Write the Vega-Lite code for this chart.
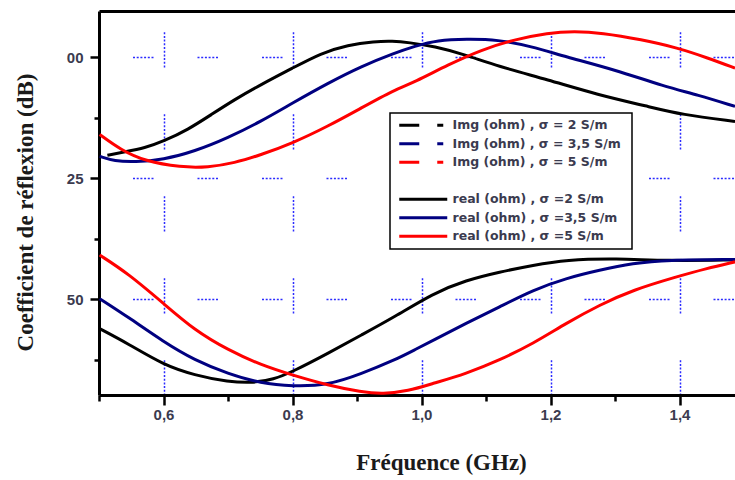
{
  "$schema": "https://vega.github.io/schema/vega-lite/v6.json",
  "width": 636,
  "height": 384,
  "autosize": {"type": "none"},
  "padding": {"left": 99, "top": 11, "right": 0, "bottom": 85},
  "background": "white",
  "config": {"view": {"stroke": null}},
  "data": {"values": [
    {"s": "Img (ohm) , σ = 2  S/m", "x": 0.513, "v": 20.3},
    {"s": "Img (ohm) , σ = 2  S/m", "x": 0.540, "v": 19.6},
    {"s": "Img (ohm) , σ = 2  S/m", "x": 0.571, "v": 18.8},
    {"s": "Img (ohm) , σ = 2  S/m", "x": 0.600, "v": 17.4},
    {"s": "Img (ohm) , σ = 2  S/m", "x": 0.638, "v": 15.0},
    {"s": "Img (ohm) , σ = 2  S/m", "x": 0.674, "v": 11.9},
    {"s": "Img (ohm) , σ = 2  S/m", "x": 0.710, "v": 8.8},
    {"s": "Img (ohm) , σ = 2  S/m", "x": 0.751, "v": 5.7},
    {"s": "Img (ohm) , σ = 2  S/m", "x": 0.800, "v": 2.3},
    {"s": "Img (ohm) , σ = 2  S/m", "x": 0.844, "v": -0.8},
    {"s": "Img (ohm) , σ = 2  S/m", "x": 0.886, "v": -2.5},
    {"s": "Img (ohm) , σ = 2  S/m", "x": 0.927, "v": -3.2},
    {"s": "Img (ohm) , σ = 2  S/m", "x": 0.955, "v": -3.3},
    {"s": "Img (ohm) , σ = 2  S/m", "x": 0.980, "v": -3.0},
    {"s": "Img (ohm) , σ = 2  S/m", "x": 1.020, "v": -2.2},
    {"s": "Img (ohm) , σ = 2  S/m", "x": 1.067, "v": -0.5},
    {"s": "Img (ohm) , σ = 2  S/m", "x": 1.118, "v": 1.9},
    {"s": "Img (ohm) , σ = 2  S/m", "x": 1.196, "v": 4.7},
    {"s": "Img (ohm) , σ = 2  S/m", "x": 1.273, "v": 7.8},
    {"s": "Img (ohm) , σ = 2  S/m", "x": 1.351, "v": 10.2},
    {"s": "Img (ohm) , σ = 2  S/m", "x": 1.403, "v": 11.9},
    {"s": "Img (ohm) , σ = 2  S/m", "x": 1.486, "v": 13.3},

    {"s": "Img (ohm) , σ = 3,5  S/m", "x": 0.501, "v": 20.5},
    {"s": "Img (ohm) , σ = 3,5  S/m", "x": 0.524, "v": 21.5},
    {"s": "Img (ohm) , σ = 3,5  S/m", "x": 0.555, "v": 21.7},
    {"s": "Img (ohm) , σ = 3,5  S/m", "x": 0.600, "v": 21.2},
    {"s": "Img (ohm) , σ = 3,5  S/m", "x": 0.648, "v": 19.5},
    {"s": "Img (ohm) , σ = 3,5  S/m", "x": 0.700, "v": 16.7},
    {"s": "Img (ohm) , σ = 3,5  S/m", "x": 0.751, "v": 13.3},
    {"s": "Img (ohm) , σ = 3,5  S/m", "x": 0.800, "v": 9.5},
    {"s": "Img (ohm) , σ = 3,5  S/m", "x": 0.855, "v": 5.4},
    {"s": "Img (ohm) , σ = 3,5  S/m", "x": 0.907, "v": 1.9},
    {"s": "Img (ohm) , σ = 3,5  S/m", "x": 0.958, "v": -0.8},
    {"s": "Img (ohm) , σ = 3,5  S/m", "x": 0.989, "v": -2.2},
    {"s": "Img (ohm) , σ = 3,5  S/m", "x": 1.025, "v": -3.5},
    {"s": "Img (ohm) , σ = 3,5  S/m", "x": 1.070, "v": -3.7},
    {"s": "Img (ohm) , σ = 3,5  S/m", "x": 1.118, "v": -3.6},
    {"s": "Img (ohm) , σ = 3,5  S/m", "x": 1.170, "v": -2.2},
    {"s": "Img (ohm) , σ = 3,5  S/m", "x": 1.222, "v": -0.1},
    {"s": "Img (ohm) , σ = 3,5  S/m", "x": 1.299, "v": 2.6},
    {"s": "Img (ohm) , σ = 3,5  S/m", "x": 1.377, "v": 6.1},
    {"s": "Img (ohm) , σ = 3,5  S/m", "x": 1.428, "v": 7.8},
    {"s": "Img (ohm) , σ = 3,5  S/m", "x": 1.486, "v": 10.2},

    {"s": "Img (ohm) , σ = 5  S/m", "x": 0.501, "v": 16.0},
    {"s": "Img (ohm) , σ = 5  S/m", "x": 0.534, "v": 19.2},
    {"s": "Img (ohm) , σ = 5  S/m", "x": 0.571, "v": 21.5},
    {"s": "Img (ohm) , σ = 5  S/m", "x": 0.627, "v": 22.8},
    {"s": "Img (ohm) , σ = 5  S/m", "x": 0.669, "v": 22.8},
    {"s": "Img (ohm) , σ = 5  S/m", "x": 0.710, "v": 21.9},
    {"s": "Img (ohm) , σ = 5  S/m", "x": 0.751, "v": 20.2},
    {"s": "Img (ohm) , σ = 5  S/m", "x": 0.800, "v": 17.8},
    {"s": "Img (ohm) , σ = 5  S/m", "x": 0.855, "v": 14.3},
    {"s": "Img (ohm) , σ = 5  S/m", "x": 0.907, "v": 10.5},
    {"s": "Img (ohm) , σ = 5  S/m", "x": 0.958, "v": 6.8},
    {"s": "Img (ohm) , σ = 5  S/m", "x": 0.989, "v": 5.2},
    {"s": "Img (ohm) , σ = 5  S/m", "x": 1.041, "v": 1.6},
    {"s": "Img (ohm) , σ = 5  S/m", "x": 1.093, "v": -1.5},
    {"s": "Img (ohm) , σ = 5  S/m", "x": 1.144, "v": -3.6},
    {"s": "Img (ohm) , σ = 5  S/m", "x": 1.196, "v": -5.0},
    {"s": "Img (ohm) , σ = 5  S/m", "x": 1.237, "v": -5.3},
    {"s": "Img (ohm) , σ = 5  S/m", "x": 1.279, "v": -5.0},
    {"s": "Img (ohm) , σ = 5  S/m", "x": 1.341, "v": -3.6},
    {"s": "Img (ohm) , σ = 5  S/m", "x": 1.397, "v": -1.9},
    {"s": "Img (ohm) , σ = 5  S/m", "x": 1.444, "v": 0.2},
    {"s": "Img (ohm) , σ = 5  S/m", "x": 1.486, "v": 2.3},

    {"s": "real (ohm) , σ =2  S/m", "x": 0.501, "v": 56.1},
    {"s": "real (ohm) , σ =2  S/m", "x": 0.545, "v": 59.2},
    {"s": "real (ohm) , σ =2  S/m", "x": 0.600, "v": 63.6},
    {"s": "real (ohm) , σ =2  S/m", "x": 0.648, "v": 65.7},
    {"s": "real (ohm) , σ =2  S/m", "x": 0.700, "v": 67.1},
    {"s": "real (ohm) , σ =2  S/m", "x": 0.741, "v": 67.3},
    {"s": "real (ohm) , σ =2  S/m", "x": 0.770, "v": 66.6},
    {"s": "real (ohm) , σ =2  S/m", "x": 0.800, "v": 65.0},
    {"s": "real (ohm) , σ =2  S/m", "x": 0.855, "v": 61.2},
    {"s": "real (ohm) , σ =2  S/m", "x": 0.907, "v": 57.4},
    {"s": "real (ohm) , σ =2  S/m", "x": 0.958, "v": 53.7},
    {"s": "real (ohm) , σ =2  S/m", "x": 1.018, "v": 48.8},
    {"s": "real (ohm) , σ =2  S/m", "x": 1.069, "v": 46.1},
    {"s": "real (ohm) , σ =2  S/m", "x": 1.121, "v": 44.4},
    {"s": "real (ohm) , σ =2  S/m", "x": 1.173, "v": 43.0},
    {"s": "real (ohm) , σ =2  S/m", "x": 1.224, "v": 41.9},
    {"s": "real (ohm) , σ =2  S/m", "x": 1.302, "v": 41.6},
    {"s": "real (ohm) , σ =2  S/m", "x": 1.379, "v": 42.1},
    {"s": "real (ohm) , σ =2  S/m", "x": 1.486, "v": 41.9},

    {"s": "real (ohm) , σ =3,5  S/m", "x": 0.501, "v": 49.9},
    {"s": "real (ohm) , σ =3,5  S/m", "x": 0.545, "v": 53.7},
    {"s": "real (ohm) , σ =3,5  S/m", "x": 0.600, "v": 58.8},
    {"s": "real (ohm) , σ =3,5  S/m", "x": 0.648, "v": 62.6},
    {"s": "real (ohm) , σ =3,5  S/m", "x": 0.700, "v": 65.4},
    {"s": "real (ohm) , σ =3,5  S/m", "x": 0.751, "v": 67.4},
    {"s": "real (ohm) , σ =3,5  S/m", "x": 0.800, "v": 68.0},
    {"s": "real (ohm) , σ =3,5  S/m", "x": 0.855, "v": 67.8},
    {"s": "real (ohm) , σ =3,5  S/m", "x": 0.907, "v": 65.4},
    {"s": "real (ohm) , σ =3,5  S/m", "x": 0.958, "v": 62.6},
    {"s": "real (ohm) , σ =3,5  S/m", "x": 0.989, "v": 60.5},
    {"s": "real (ohm) , σ =3,5  S/m", "x": 1.018, "v": 58.5},
    {"s": "real (ohm) , σ =3,5  S/m", "x": 1.069, "v": 55.0},
    {"s": "real (ohm) , σ =3,5  S/m", "x": 1.121, "v": 51.6},
    {"s": "real (ohm) , σ =3,5  S/m", "x": 1.173, "v": 48.1},
    {"s": "real (ohm) , σ =3,5  S/m", "x": 1.224, "v": 45.7},
    {"s": "real (ohm) , σ =3,5  S/m", "x": 1.276, "v": 44.0},
    {"s": "real (ohm) , σ =3,5  S/m", "x": 1.328, "v": 42.6},
    {"s": "real (ohm) , σ =3,5  S/m", "x": 1.379, "v": 41.9},
    {"s": "real (ohm) , σ =3,5  S/m", "x": 1.486, "v": 41.8},

    {"s": "real (ohm) , σ =5  S/m", "x": 0.501, "v": 40.9},
    {"s": "real (ohm) , σ =5  S/m", "x": 0.545, "v": 44.7},
    {"s": "real (ohm) , σ =5  S/m", "x": 0.600, "v": 50.9},
    {"s": "real (ohm) , σ =5  S/m", "x": 0.648, "v": 56.4},
    {"s": "real (ohm) , σ =5  S/m", "x": 0.700, "v": 60.5},
    {"s": "real (ohm) , σ =5  S/m", "x": 0.751, "v": 63.6},
    {"s": "real (ohm) , σ =5  S/m", "x": 0.800, "v": 65.7},
    {"s": "real (ohm) , σ =5  S/m", "x": 0.855, "v": 67.8},
    {"s": "real (ohm) , σ =5  S/m", "x": 0.907, "v": 69.2},
    {"s": "real (ohm) , σ =5  S/m", "x": 0.940, "v": 69.6},
    {"s": "real (ohm) , σ =5  S/m", "x": 0.979, "v": 69.0},
    {"s": "real (ohm) , σ =5  S/m", "x": 1.018, "v": 67.4},
    {"s": "real (ohm) , σ =5  S/m", "x": 1.069, "v": 65.4},
    {"s": "real (ohm) , σ =5  S/m", "x": 1.121, "v": 62.6},
    {"s": "real (ohm) , σ =5  S/m", "x": 1.173, "v": 59.2},
    {"s": "real (ohm) , σ =5  S/m", "x": 1.224, "v": 55.0},
    {"s": "real (ohm) , σ =5  S/m", "x": 1.276, "v": 51.2},
    {"s": "real (ohm) , σ =5  S/m", "x": 1.328, "v": 48.1},
    {"s": "real (ohm) , σ =5  S/m", "x": 1.395, "v": 45.4},
    {"s": "real (ohm) , σ =5  S/m", "x": 1.441, "v": 43.7},
    {"s": "real (ohm) , σ =5  S/m", "x": 1.486, "v": 42.3}
  ]},
  "encoding": {
    "y": {
      "field": "v", "type": "quantitative",
      "scale": {"domain": [-9.5, 69.8], "reverse": true, "nice": false, "zero": false},
      "axis": {
        "orient": "left",
        "values": [0, 12.5, 25, 37.5, 50, 62.5],
        "labelExpr": "datum.value % 25 == 0 ? (datum.value == 0 ? '00' : format(datum.value, 'd')) : ''",
        "tickSize": {"condition": {"test": "datum.value % 25 == 0", "value": 9}, "value": 5},
        "grid": true,
        "gridOpacity": {"condition": {"test": "datum.value % 25 == 0", "value": 1}, "value": 0},
        "gridColor": "#2b2bff",
        "gridWidth": 1.5,
        "gridDash": [2, 1.7, 2, 1.7, 2, 1.7, 2, 1.7, 2, 1.7, 2, 44.0],
        "gridDashOffset": 31,
        "domainColor": "black", "domainWidth": 3,
        "tickColor": "black", "tickWidth": 2.5,
        "labelFont": "Liberation Sans", "labelFontSize": 15, "labelFontWeight": "bold",
        "labelColor": "#3b3b4f", "labelPadding": 7, "labelFlush": false, "labelOverlap": false,
        "title": "Coefficient de réflexion (dB)",
        "titleFont": "Liberation Serif", "titleFontSize": 23, "titleFontWeight": "bold",
        "titleColor": "#1a1a1a", "titleX": -67, "titleY": 201, "titleBaseline": "alphabetic"
      }
    }
  },
  "layer": [
    {
      "mark": {"type": "line", "strokeWidth": 3, "interpolate": "basis"},
      "encoding": {
        "x": {
          "field": "x", "type": "quantitative",
          "scale": {"domain": [0.5, 1.486], "nice": false, "zero": false},
          "axis": {
            "orient": "bottom",
            "values": [0.5, 0.6, 0.7, 0.8, 0.9, 1.0, 1.1, 1.2, 1.3, 1.4],
            "labelExpr": "round(datum.value * 10) % 2 == 0 ? replace(format(datum.value, '.1f'), '.', ',') : ''",
            "tickSize": {"condition": {"test": "round(datum.value * 10) % 2 == 0", "value": 10}, "value": 6},
            "grid": true,
            "gridOpacity": {"condition": {"test": "round(datum.value * 10) % 2 == 0", "value": 1}, "value": 0},
            "gridColor": "#2b2bff",
            "gridWidth": 1.5,
            "gridDash": [2, 1.7, 2, 1.7, 2, 1.7, 2, 1.7, 2, 1.7, 2, 1.7, 2, 1.7, 2, 1.7, 2, 1.7, 2, 46.7],
            "gridDashOffset": 0,
            "domainColor": "black", "domainWidth": 3,
            "tickColor": "black", "tickWidth": 2.5,
            "labelFont": "Liberation Sans", "labelFontSize": 15, "labelFontWeight": "bold",
            "labelColor": "#3b3b4f", "labelPadding": 2, "labelFlush": false, "labelOverlap": false,
            "title": "Fréquence (GHz)",
            "titleFont": "Liberation Serif", "titleFontSize": 23, "titleFontWeight": "bold",
            "titleColor": "#1a1a1a", "titleX": 342, "titleY": 56, "titleBaseline": "top"
          }
        },
        "color": {
          "field": "s", "type": "nominal",
          "scale": {
            "domain": ["Img (ohm) , σ = 2  S/m", "Img (ohm) , σ = 3,5  S/m", "Img (ohm) , σ = 5  S/m", " ", "real (ohm) , σ =2  S/m", "real (ohm) , σ =3,5  S/m", "real (ohm) , σ =5  S/m"],
            "range": ["#000000", "#000080", "#ff0000", "rgba(0,0,0,0)", "#000000", "#000080", "#ff0000"]
          },
          "legend": {
            "orient": "none", "legendX": 291, "legendY": 102,
            "title": null,
            "strokeColor": "black", "fillColor": "white", "padding": 6,
            "symbolType": "M-1,0H15", "symbolSize": 36, "symbolStrokeWidth": 3,
            "labelFont": "DejaVu Sans", "labelFontSize": 12.5, "labelFontWeight": "bold",
            "labelColor": "#3b3b4f", "labelLimit": 400, "labelOffset": 44, "rowPadding": 5.5,
            "encode": {
              "legend": {"update": {"strokeWidth": {"value": 1.5}}},
              "symbols": {"update": {"strokeDash": {"signal": "test(/^Img/, datum.value) ? [20, 18, 6, 100] : [1, 0]"}}}
            }
          }
        }
      }
    },
    {
      "mark": {"type": "point", "opacity": 0},
      "encoding": {
        "x": {
          "field": "x", "type": "quantitative",
          "scale": {"domain": [0.5, 1.486], "nice": false, "zero": false},
          "axis": {"orient": "top", "domain": true, "domainColor": "black", "domainWidth": 3, "ticks": false, "labels": false, "grid": false, "title": null}
        }
      }
    }
  ],
  "resolve": {"axis": {"x": "independent"}}
}
